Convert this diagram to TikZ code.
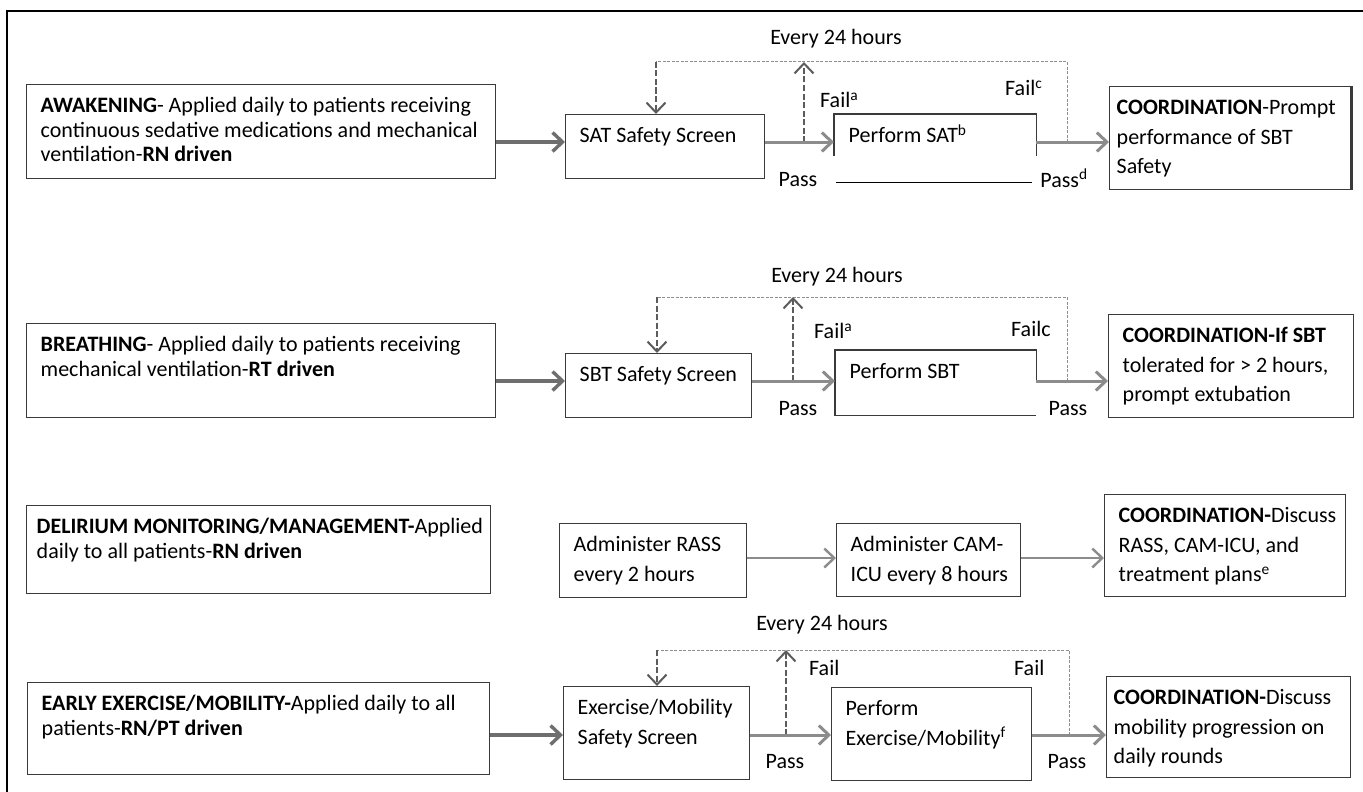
\documentclass[tikz,border=0pt]{standalone}
\usepackage{fontspec}
\setmainfont{Carlito}
\usetikzlibrary{arrows.meta,positioning}
\definecolor{boxline}{HTML}{3A3A3A}
\definecolor{flowgray}{HTML}{8C8C8C}
\definecolor{flowdark}{HTML}{6E6E6E}
\definecolor{loopgray}{HTML}{8E8E8E}
\definecolor{loopdark}{HTML}{5C5C5C}
% box text: [pad]{width}{height}{text}, first baseline 28pt below the top
\newcommand{\cell}[4][14pt]{\parbox[c][#3][t]{#2}{\raggedright\rightskip=-60pt plus 1fil\leftskip=#1\vspace*{\dimexpr28pt-.7\baselineskip\relax}\strut#4}}
\tikzset{
  >={Straight Barb[length=10pt,width=19pt]},
  box/.style={draw=boxline, line width=1.4pt, anchor=north west, inner sep=0pt},
  leftbox/.style={box, font=\fontsize{22}{24.5}\selectfont},
  lbl/.style={inner sep=0pt},
  flow/.style={->, draw=flowgray, line width=3pt},
  flowdk/.style={flow, draw=flowdark, line width=3.4pt},
  flowlt/.style={->, draw=flowgray, line width=2.4pt},
  loopline/.style={draw=loopgray, line width=1pt, dash pattern=on 3pt off 1.5pt},
  looparrow/.style={->, draw=loopdark, line width=2pt, dash pattern=on 6pt off 2.5pt},
}

\begin{document}
\begin{tikzpicture}[x=1pt, y=-1pt, every node/.style={font=\fontsize{22}{29.5}\selectfont}]
  \useasboundingbox (0,0) rectangle (1363,792);
  \draw[line width=1.5pt] (7,792) -- (7,11) -- (1363,11);

  % rows of the flow arrows
  \coordinate (r1) at (0,142);
  \coordinate (r2) at (0,381);
  \coordinate (r3) at (0,558);
  \coordinate (r4) at (0,735);

  % awakening
  \node[leftbox] (awk) at (26,84) {\cell{469pt}{94pt}{\textbf{AWAKENING}- Applied daily to patients receiving\\continuous sedative medications and mechanical\\ventilation-\textbf{RN driven}}};
  \node[box] (sat) at (565,114) {\cell{199pt}{64pt}{SAT Safety Screen}};
  \node[box, draw=none] (psat) at (834,114) {\cell{201pt}{67pt}{Perform SAT\textsuperscript{b}}};
  \node[box] (c1) at (1109,86) {\cell[7pt]{241pt}{103pt}{\textbf{COORDINATION}-Prompt\\performance of SBT\\Safety}};
  \draw[boxline, line width=1.4pt] (psat.west |- 0,156) -- (psat.north west) -- (psat.north east) -- (psat.east |- 0,156);
  \draw[black, line width=1.4pt] ([xshift=2pt]psat.south west) -- ([xshift=-4pt]psat.south east);
  \draw[boxline, line width=3pt] (c1.north east) -- (c1.south east);

  \coordinate (t1) at (656,62);
  \coordinate (u1) at (804,62);
  \coordinate (e1) at (1067,62);
  \draw[loopline] (e1 |- r1) -- (e1) -- (t1);
  \draw[looparrow] (t1) -- (t1 |- sat.north);
  \draw[looparrow] (u1 |- r1) -- (u1);
  \draw[flowdk] (awk.east |- r1) -- (sat.west |- r1);
  \draw[flow] (sat.east |- r1) -- (psat.west |- r1);
  \draw[flow] (psat.east |- r1) -- (c1.west |- r1);

  \node[lbl] (ev1) at (836,39) {Every 24 hours};
  \node[lbl, anchor=west] (fa1) at (820,100) {Fail\textsuperscript{a}};
  \node[lbl, anchor=west] (fc1) at (1005,88) {Fail\textsuperscript{c}};
  \node[lbl] (pa1) at (798,180) {Pass};
  \node[lbl] (pd1) at (1064,178) {Pass\textsuperscript{d}};

  % breathing
  \node[leftbox] (brt) at (26,323) {\cell{469pt}{94pt}{\textbf{BREATHING}- Applied daily to patients receiving\\mechanical ventilation-\textbf{RT driven}}};
  \node[box] (sbt) at (565,353) {\cell{186pt}{64pt}{SBT Safety Screen}};
  \node[box, draw=none] (psbt) at (835,350) {\cell{200pt}{64pt}{Perform SBT}};
  \node[box] (c2) at (1108,314) {\cell{245pt}{103pt}{\textbf{COORDINATION-If SBT}\\tolerated for > 2 hours,\\prompt extubation}};
  \draw[boxline, line width=1.4pt] (psbt.east |- r2) -- (psbt.north east) -- (psbt.north west) -- (psbt.south west) -- (psbt.south east);

  \coordinate (t2) at (657,297);
  \coordinate (u2) at (793,297);
  \coordinate (e2) at (1067,297);
  \draw[loopline] (e2 |- r2) -- (e2) -- (t2);
  \draw[looparrow] (t2) -- (t2 |- sbt.north);
  \draw[looparrow] (u2 |- r2) -- (u2);
  \draw[flowdk] (brt.east |- r2) -- (sbt.west |- r2);
  \draw[flow] (sbt.east |- r2) -- (psbt.west |- r2);
  \draw[flow] (psbt.east |- r2) -- (c2.west |- r2);

  \node[lbl] (ev2) at (837,277) {Every 24 hours};
  \node[lbl, anchor=west] (fa2) at (814,331) {Fail\textsuperscript{a}};
  \node[lbl, anchor=west] (fc2) at (1011,329) {Failc};
  \node[lbl] (pa2) at (798,409) {Pass};
  \node[lbl] (pb2) at (1068,409) {Pass};

  % delirium
  \node[leftbox] (del) at (26,505) {\cell[10pt]{464pt}{88pt}{\textbf{DELIRIUM MONITORING/MANAGEMENT-}Applied\\daily to all patients-\textbf{RN driven}}};
  \node[box] (rass) at (559,523) {\cell{187pt}{74pt}{Administer RASS\\every 2 hours}};
  \node[box] (cam) at (836,523) {\cell{184pt}{73pt}{Administer CAM-\\ICU every 8 hours}};
  \node[box] (c3) at (1104,494) {\cell{241pt}{102pt}{\textbf{COORDINATION-}Discuss\\RASS, CAM-ICU, and\\treatment plans\textsuperscript{e}}};
  \draw[flowlt] (rass.east |- r3) -- (cam.west |- r3);
  \draw[flowlt] (cam.east |- r3) -- (c3.west |- r3);

  % exercise
  \node[leftbox] (ear) at (27,682) {\cell{462pt}{92pt}{\textbf{EARLY EXERCISE/MOBILITY-}Applied daily to all\\patients-\textbf{RN/PT driven}}};
  \node[box] (exs) at (563,686) {\cell{186pt}{93pt}{Exercise/Mobility\\Safety Screen}};
  \node[box] (pex) at (831,687) {\cell{200pt}{93pt}{Perform\\Exercise/Mobility\textsuperscript{f}}};
  \node[box] (c4) at (1106,676) {\cell[7pt]{244pt}{101pt}{\textbf{COORDINATION-}Discuss\\mobility progression on\\daily rounds}};

  \coordinate (t4) at (657,650);
  \coordinate (u4) at (786,650);
  \coordinate (e4) at (1069,650);
  \draw[loopline] (e4 |- r4) -- (e4) -- (t4);
  \draw[looparrow] (t4) -- (t4 |- exs.north);
  \draw[looparrow] (u4 |- r4) -- (u4);
  \draw[flowdk] (ear.east |- r4) -- (exs.west |- r4);
  \draw[flow] (exs.east |- r4) -- (pex.west |- r4);
  \draw[flow] (pex.east |- r4) -- (c4.west |- r4);

  \node[lbl] (ev4) at (822,625) {Every 24 hours};
  \node[lbl, anchor=west] (fa4) at (809,668) {Fail};
  \node[lbl, anchor=west] (fb4) at (1014,668) {Fail};
  \node[lbl] (pa4) at (785,762) {Pass};
  \node[lbl] (pb4) at (1067,762) {Pass};
\end{tikzpicture}
\end{document}
